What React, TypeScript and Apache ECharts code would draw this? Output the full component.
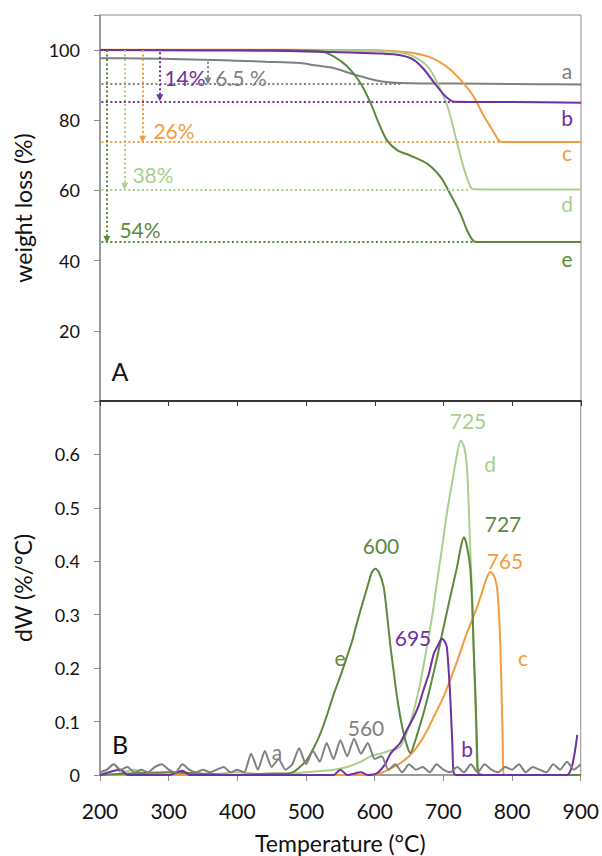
import React, { useEffect, useRef } from "react";
import * as echarts from "echarts";

// ---------- DATA ----------
const xTicks = [200, 300, 400, 500, 600, 700, 800, 900];

// TGA curves (temperature °C, weight %)
const tgaA: [number, number][] = [[200,97.7],[260,97.6],[320,97.4],[380,97.1],[440,96.7],[491,96.3],[515,95.6],[540,94.9],[564,93.4],[589,92.0],[613,91.0],[637,90.6],[680,90.5],[760,90.4],[840,90.3],[900,90.2]];
const tgaB: [number, number][] = [[200,100],[350,99.9],[450,99.8],[500,99.6],[564,99.3],[610,99.0],[637,98.5],[656,97.3],[671,94.6],[686,90.8],[700,87.4],[710,85.7],[716,85.3],[800,85.2],[900,85.0]];
const tgaC: [number, number][] = [[200,100.1],[400,100.1],[550,100.0],[612,99.9],[650,99.3],[677,98.2],[695,96.5],[710,94.4],[729,90.6],[744,86.7],[758,81.4],[773,76.6],[782,74.0],[790,73.8],[900,73.8]];
const tgaD: [number, number][] = [[200,100],[400,100],[550,99.9],[620,99.6],[637,99.3],[656,98.2],[677,95.3],[691,90.6],[706,83.8],[720,73.3],[729,66.6],[737,62.0],[742,60.4],[760,60.3],[900,60.3]];
const tgaE: [number, number][] = [[200,100],[400,100],[470,100],[491,99.9],[521,99.7],[540,98.2],[560,95.3],[579,90.6],[594,84.8],[608,78.1],[618,74.2],[633,71.4],[652,69.9],[677,67.5],[696,63.7],[710,58.9],[725,53.2],[735,48.3],[744,45.5],[750,45.3],[900,45.3]];

// final plateau levels and where the dotted guide lines end
const plateau = { a: 90.3, b: 85.2, c: 73.8, d: 60.3, e: 45.3 };
const guideEnd = { a: 637, b: 729, c: 808, d: 739, e: 764 };
// vertical arrows: [temperature, from %, to %]
const arrowA: [number, number, number] = [357, 96.7, 91.2];
const arrowB: [number, number, number] = [287, 99.4, 86.4];
const arrowC: [number, number, number] = [262, 100, 74.6];
const arrowD: [number, number, number] = [236, 100, 61.2];
const arrowE: [number, number, number] = [210, 100, 46.0];

// DTG curves (temperature °C, dW %/°C)
const dtgA: [number, number][] = [[200,0.005],[210,0.01],[220,0.02],[230,0.01],[240,0.015],[250,0.005],[260,0.01],[270,0.005],[280,0.015],[290,0.02],[300,0.01],[310,0.005],[320,0.02],[330,0.01],[340,0.005],[350,0.01],[360,0.005],[370,0.01],[380,0.015],[390,0.005],[400,0.01],[410,0.005],[420,0.04],[430,0.01],[440,0.045],[450,0.015],[460,0.03],[470,0.01],[480,0.02],[490,0.05],[500,0.02],[510,0.045],[520,0.025],[530,0.06],[540,0.03],[550,0.065],[560,0.035],[570,0.068],[580,0.04],[590,0.06],[600,0.03],[610,0.035],[620,0.01],[630,0.02],[640,0.005],[650,0.02],[660,0.01],[670,0.015],[680,0.005],[690,0.02],[700,0.01],[710,0.005],[720,0.015],[730,0.005],[740,0.02],[750,0.005],[760,0.02],[770,0.01],[780,0.005],[790,0.015],[800,0.01],[810,0.02],[820,0.005],[830,0.015],[840,0.01],[850,0.005],[860,0.02],[870,0.01],[880,0.025],[890,0.01],[900,0.02]];
const dtgB: [number, number][] = [[200,0],[230,0.01],[240,0],[300,0],[320,0.008],[330,0],[400,0],[500,0],[540,0],[550,0.01],[560,0],[580,0.005],[590,0],[603,0.003],[615,0.02],[623,0.04],[630,0.05],[637,0.06],[647,0.085],[657,0.109],[664,0.13],[671,0.159],[679,0.19],[686,0.227],[691,0.24],[698,0.255],[702,0.25],[705,0.24],[708,0.19],[710,0.146],[713,0.06],[715,0.003],[720,0],[800,0],[880,0],[888,0.02],[895,0.075]];
const dtgC: [number, number][] = [[200,0],[600,0],[608,0.003],[620,0.01],[637,0.022],[650,0.035],[662,0.053],[675,0.08],[686,0.109],[698,0.14],[710,0.178],[722,0.22],[734,0.265],[745,0.3],[754,0.333],[762,0.365],[768,0.38],[773,0.375],[778,0.352],[781,0.3],[783,0.24],[785,0.14],[786.5,0.053],[788,0],[900,0]];
const dtgD: [number, number][] = [[200,0.005],[210,0.01],[220,0.02],[230,0.005],[250,0.01],[270,0],[300,0.005],[350,0],[400,0.005],[450,0],[500,0.005],[540,0.01],[560,0.015],[580,0.025],[594,0.035],[608,0.04],[620,0.045],[637,0.053],[647,0.08],[656,0.116],[666,0.17],[676,0.24],[684,0.3],[691,0.364],[698,0.425],[705,0.489],[713,0.55],[720,0.601],[725,0.626],[730,0.615],[734,0.583],[737,0.5],[739,0.427],[742,0.33],[744,0.24],[747,0.12],[749,0.022],[752,0],[900,0]];
const dtgE: [number, number][] = [[200,0],[300,0.005],[400,0],[450,0.003],[472,0.003],[482,0.006],[491,0.015],[501,0.028],[511,0.05],[521,0.078],[530,0.11],[540,0.15],[550,0.185],[559.5,0.221],[567,0.25],[574,0.284],[582,0.32],[590,0.355],[596,0.38],[601,0.386],[606,0.38],[613,0.352],[618,0.3],[623,0.24],[628,0.19],[632.5,0.146],[640,0.09],[647,0.055],[652,0.041],[658,0.06],[664,0.085],[671,0.115],[681,0.165],[691,0.221],[700,0.275],[710,0.333],[720,0.39],[726,0.43],[730,0.445],[734,0.43],[739,0.389],[742,0.32],[744,0.24],[747,0.14],[749,0.053],[751,0.004],[760,0],[900,0]];

// ---------- STYLE ----------
const C = { a: "#808080", b: "#7030a0", c: "#f39c3f", d: "#a8cf8c", e: "#5b8a3a" };
const FONT = "Lato, 'Open Sans', sans-serif";

export default function App() {
  const ref = useRef<HTMLDivElement>(null);
  useEffect(() => {
    if (!ref.current) return;
    const chart = echarts.init(ref.current, undefined, { renderer: "svg" });

    const dotted = [2, 2.5];
    const guide = (color: string, level: number, end: number, arrow: [number, number, number], width = 2) => ({
      silent: true,
      animation: false,
      label: { show: false },
      symbol: ["none", "none"],
      data: [
        [
          { coord: [202, level], symbol: "none", lineStyle: { color, type: dotted, width } },
          { coord: [end, level], symbol: "none" },
        ],
        [
          { coord: [arrow[0], arrow[1]], symbol: "none", lineStyle: { color, type: dotted, width } },
          { coord: [arrow[0], arrow[2]], symbol: "triangle", symbolSize: [7, 7] },
        ],
      ],
    });

    const tga = (name: string, data: [number, number][], color: string, key: keyof typeof plateau, arrow: [number, number, number], width = 2) => ({
      name,
      type: "line",
      xAxisIndex: 0,
      yAxisIndex: 0,
      data,
      showSymbol: false,
      smooth: 0.3,
      lineStyle: { color, width },
      itemStyle: { color },
      markLine: guide(color, plateau[key], guideEnd[key], arrow),
      z: 3,
    });
    const dtg = (name: string, data: [number, number][], color: string, width = 2, smooth: number | boolean = 0.25) => ({
      name,
      type: "line",
      xAxisIndex: 1,
      yAxisIndex: 1,
      data,
      showSymbol: false,
      smooth,
      lineStyle: { color, width },
      itemStyle: { color },
      z: 3,
    });

    const txt = (text: string, x: number, y: number, fill: string, fontSize = 21) => ({
      type: "text",
      x,
      y,
      z: 10,
      style: { text, fill, font: `${fontSize}px ${FONT}`, align: "center", verticalAlign: "middle" },
    });

    const axisLabelBase = { color: "#111", fontFamily: FONT };

    chart.setOption({
      animation: false,
      backgroundColor: "#fff",
      grid: [
        { left: 100, right: 21, top: 15, height: 386, show: true, borderColor: "#8c8c8c", borderWidth: 1 },
        { left: 100, right: 21, top: 401, height: 374, show: true, borderColor: "#8c8c8c", borderWidth: 1 },
      ],
      xAxis: [
        {
          type: "value", gridIndex: 0, min: 200, max: 900, interval: 100, position: "bottom",
          axisLine: { show: true, lineStyle: { color: "#111", width: 1.5 } },
          axisTick: { show: true, inside: false, length: 5, lineStyle: { color: "#333" } },
          axisLabel: { show: false },
          splitLine: { show: false },
        },
        {
          type: "value", gridIndex: 1, min: 200, max: 900, interval: 100, position: "bottom",
          axisLine: { show: true, lineStyle: { color: "#8c8c8c", width: 1.5 } },
          axisTick: { show: true, inside: false, length: 6, lineStyle: { color: "#8c8c8c" } },
          axisLabel: { ...axisLabelBase, fontSize: 21, margin: 25, formatter: (v: number) => (xTicks.includes(v) ? String(v) : "") },
          splitLine: { show: false },
          name: "Temperature (°C)", nameLocation: "middle", nameGap: 56,
          nameTextStyle: { color: "#111", fontSize: 23, fontFamily: FONT },
        },
      ],
      yAxis: [
        {
          type: "value", gridIndex: 0, min: 0, max: 110, interval: 20,
          axisLine: { show: true, lineStyle: { color: "#8c8c8c", width: 1.5 } },
          axisTick: { show: true, inside: false, length: 6, lineStyle: { color: "#8c8c8c" } },
          axisLabel: { ...axisLabelBase, fontSize: 18, margin: 20, formatter: (v: number) => (v > 0 && v <= 100 ? String(v) : "") },
          splitLine: { show: false },
          name: "weight loss (%)", nameLocation: "middle", nameGap: 66, nameRotate: 90,
          nameTextStyle: { color: "#111", fontSize: 23, fontFamily: FONT },
        },
        {
          type: "value", gridIndex: 1, min: 0, max: 0.7, interval: 0.1,
          axisLine: { show: true, lineStyle: { color: "#8c8c8c", width: 1.5 } },
          axisTick: { show: true, inside: false, length: 6, lineStyle: { color: "#8c8c8c" } },
          axisLabel: { ...axisLabelBase, fontSize: 18, margin: 20, formatter: (v: number) => (v === 0 ? "0" : v > 0.65 ? "" : v.toFixed(1)) },
          splitLine: { show: false },
          name: "dW (%/°C)", nameLocation: "middle", nameGap: 66, nameRotate: 90,
          nameTextStyle: { color: "#111", fontSize: 23, fontFamily: FONT },
        },
      ],
      series: [
        tga("a", tgaA, C.a, "a", arrowA, 2),
        tga("c", tgaC, C.c, "c", arrowC),
        tga("d", tgaD, C.d, "d", arrowD),
        tga("e", tgaE, C.e, "e", arrowE),
        tga("b", tgaB, C.b, "b", arrowB),
        dtg("d", dtgD, C.d),
        dtg("c", dtgC, C.c),
        dtg("e", dtgE, C.e),
        dtg("b", dtgB, C.b),
        dtg("a", dtgA, C.a, 2, 0.2),
      ],
      graphic: [
        txt("14%", 185, 77, C.b),
        txt("6.5 %", 241, 77, C.a),
        txt("26%", 174, 130, C.c),
        txt("38%", 153, 174, C.d),
        txt("54%", 140, 229, C.e),
        txt("a", 567, 70, C.a),
        txt("b", 567, 117, C.b),
        txt("c", 567, 152, C.c),
        txt("d", 567, 203, C.d),
        txt("e", 567, 258, C.e),
        txt("A", 120, 371, "#111", 25),
        txt("B", 120, 744, "#111", 25),
        txt("725", 468, 420, C.d),
        txt("d", 490, 463, C.d),
        txt("727", 503, 523, C.e),
        txt("765", 505, 560, C.c),
        txt("600", 381, 545, C.e),
        txt("695", 413, 637, C.b),
        txt("e", 340, 657, C.e),
        txt("c", 523, 657, C.c),
        txt("560", 366, 727, C.a),
        txt("b", 467, 748, C.b),
        txt("a", 277, 751, C.a),
      ],
    });
    return () => chart.dispose();
  }, []);
  return <div ref={ref} style={{ width: 602, height: 856, position: "absolute", left: 0, top: 0 }} />;
}
